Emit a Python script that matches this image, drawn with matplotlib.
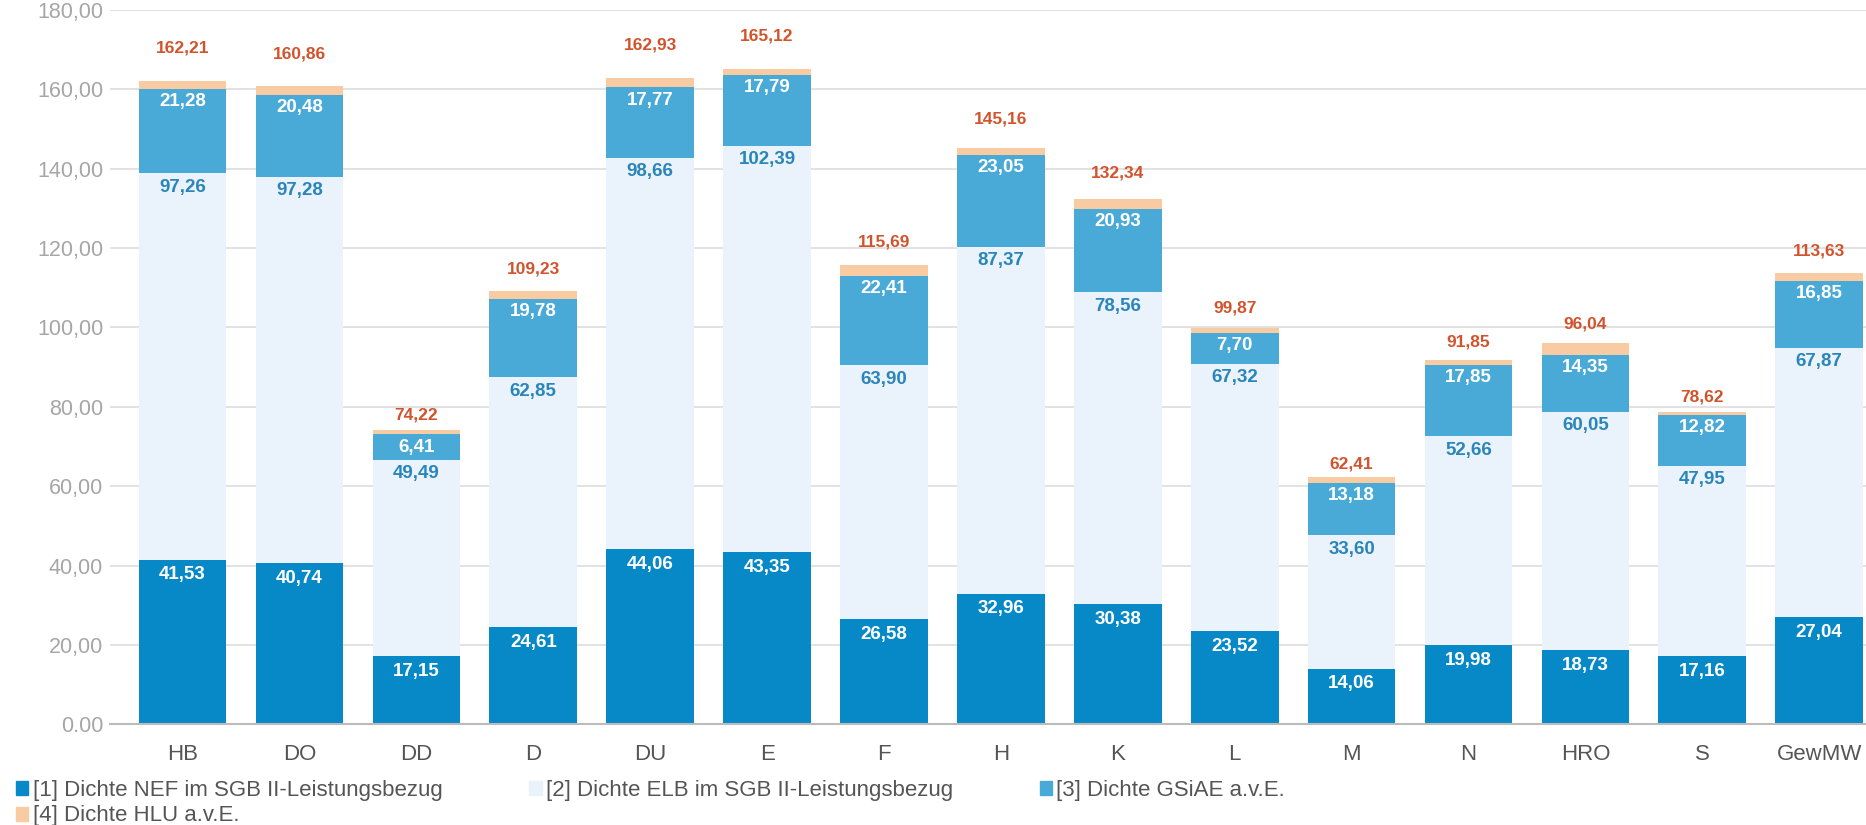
import matplotlib.pyplot as plt
import numpy as np
from matplotlib.patches import Patch

plt.rcParams['font.family'] = ['Liberation Sans', 'DejaVu Sans']

# Daten
kategorien = ['HB', 'DO', 'DD', 'D', 'DU', 'E', 'F', 'H', 'K', 'L', 'M', 'N', 'HRO', 'S', 'GewMW']
nef = [41.53, 40.74, 17.15, 24.61, 44.06, 43.35, 26.58, 32.96, 30.38, 23.52, 14.06, 19.98, 18.73, 17.16, 27.04]
elb = [97.26, 97.28, 49.49, 62.85, 98.66, 102.39, 63.90, 87.37, 78.56, 67.32, 33.60, 52.66, 60.05, 47.95, 67.87]
gsiae = [21.28, 20.48, 6.41, 19.78, 17.77, 17.79, 22.41, 23.05, 20.93, 7.70, 13.18, 17.85, 14.35, 12.82, 16.85]
hlu = [2.14, 2.36, 1.17, 1.99, 2.44, 1.59, 2.80, 1.78, 2.47, 1.33, 1.57, 1.36, 2.91, 0.69, 1.87]
summe = [162.21, 160.86, 74.22, 109.23, 162.93, 165.12, 115.69, 145.16, 132.34, 99.87, 62.41, 91.85, 96.04, 78.62, 113.63]

serien = ['[1] Dichte NEF im SGB II-Leistungsbezug',
          '[2] Dichte ELB im SGB II-Leistungsbezug',
          '[3] Dichte GSiAE a.v.E.',
          '[4] Dichte HLU a.v.E.']

c_nef = '#0788c7'
c_elb = '#eaf3fb'
c_gsiae = '#4aaad7'
c_hlu = '#f8cba2'
c_summe = '#d2542c'
c_elb_txt = '#2a85ba'


def fmt(v):
    return f'{v:.2f}'.replace('.', ',')


fig = plt.figure(figsize=(18.66, 8.25), dpi=100)
ax = fig.add_axes([0.059, 0.122, 0.941, 0.866])

x = np.arange(len(kategorien))
w = 0.75
nef_a = np.array(nef)
elb_a = np.array(elb)
gs_a = np.array(gsiae)
hlu_a = np.array(hlu)

ax.bar(x, nef_a, w, color=c_nef, zorder=2)
ax.bar(x, elb_a, w, bottom=nef_a, color=c_elb, zorder=2)
ax.bar(x, gs_a, w, bottom=nef_a + elb_a, color=c_gsiae, zorder=2)
ax.bar(x, hlu_a, w, bottom=nef_a + elb_a + gs_a, color=c_hlu, zorder=2)

for i in range(len(kategorien)):
    ax.annotate(fmt(nef[i]), (x[i], nef[i]), xytext=(0, -5), textcoords='offset points',
                ha='center', va='top', color='white', fontsize=13.5, fontweight='bold', zorder=3)
    ax.annotate(fmt(elb[i]), (x[i], nef[i] + elb[i]), xytext=(0, -4), textcoords='offset points',
                ha='center', va='top', color=c_elb_txt, fontsize=13.5, fontweight='bold', zorder=3)
    ax.annotate(fmt(gsiae[i]), (x[i], nef[i] + elb[i] + gsiae[i]), xytext=(0, -3), textcoords='offset points',
                ha='center', va='top', color='white', fontsize=13.5, fontweight='bold', zorder=3)
    ax.text(x[i], summe[i] * 1.05, fmt(summe[i]), ha='center', va='center',
            color=c_summe, fontsize=12.5, fontweight='bold', zorder=3)

ax.set_xlim(-0.62, 14.4)
ax.set_ylim(0, 180)
ax.set_yticks(np.arange(0, 181, 20))
ax.set_yticklabels(['0.00'] + [fmt(v) for v in np.arange(20, 181, 20)])
ax.set_xticks(x)
ax.set_xticklabels(kategorien)
ax.tick_params(axis='y', length=0, labelsize=15.5, labelcolor='#a6a6a6', pad=5)
ax.tick_params(axis='x', length=0, labelsize=16, labelcolor='#555555', pad=14)
ax.grid(axis='y', color='#dddddd', linewidth=1.2, zorder=0)
for s in ['top', 'right', 'left']:
    ax.spines[s].set_visible(False)
ax.spines['bottom'].set_color('#bbbbbb')
ax.spines['bottom'].set_linewidth(1.5)

handles = [Patch(color=c_nef), Patch(color=c_elb), Patch(color=c_gsiae), Patch(color=c_hlu)]
reihenfolge = [0, 3, 1, 2]
fig.legend([handles[k] for k in reihenfolge], [serien[k] for k in reihenfolge],
           loc='lower left', bbox_to_anchor=(-0.002, -0.026), ncol=3, frameon=False,
           fontsize=16, handlelength=0.55, handleheight=0.6, handletextpad=0.2,
           columnspacing=3.9, labelspacing=0.2, labelcolor='#555555')

fig.savefig('out.png', dpi=100)
